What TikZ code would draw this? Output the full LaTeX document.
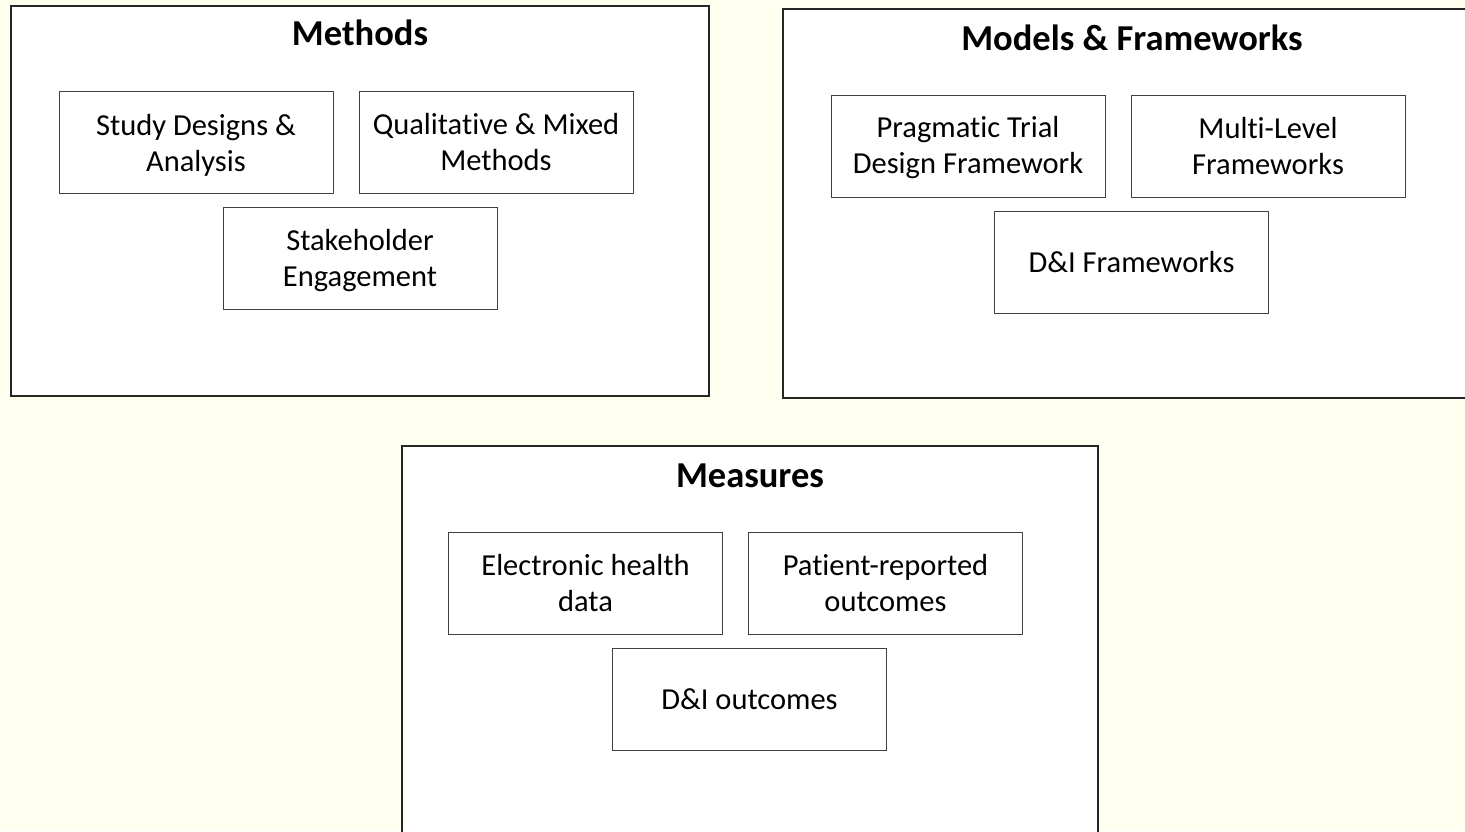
\documentclass[tikz,border=0pt]{standalone}
\usepackage{fontspec}
\setmainfont[Ligatures=NoCommon]{Carlito}
\definecolor{bgc}{HTML}{FFFFF0}
\begin{document}
\begin{tikzpicture}[x=1pt,y=-1pt,
  group/.style={draw=black!85,line width=1.2pt,fill=white},
  item/.style={draw=black!75,line width=1pt,fill=white,rectangle,minimum width=274pt,minimum height=102pt},
  itemtext/.style={align=center,font=\fontsize{30.5}{36}\selectfont,inner sep=0pt},
  title/.style={font=\fontsize{36.5}{42}\selectfont\bfseries}]
\useasboundingbox (0,0) rectangle (1465,831);
\fill[bgc] (0,0) rectangle (1465,831);
\begin{scope}
\clip (0,0) rectangle (1465,831);
\draw[group] (11,6) rectangle (709,396);
\draw[group] (783,9) rectangle (1475,398);
\draw[group] (402,446) rectangle (1098,845);
\end{scope}
\node[title] (t1) at (360,33) {Methods};
\node[title] (t2) at (1132,38) {Models \& Frameworks};
\node[title] (t3) at (750,476) {Measures};
\node[item] (a1) at (196,142) {};
\node[item] (a2) at (496,142) {};
\node[item] (a3) at (360,258) {};
\node[item] (b1) at (968,146) {};
\node[item] (b2) at (1268,146) {};
\node[item] (b3) at (1131.5,262) {};
\node[item] (c1) at (585.5,583) {};
\node[item] (c2) at (885.5,583) {};
\node[item] (c3) at (749.5,699) {};
\node[itemtext] (a1t) at ([yshift=-3pt]a1.center) {Study Designs \&\\Analysis};
\node[itemtext] (a2t) at ([yshift=-0.5pt]a2.center) {Qualitative \& Mixed\\Methods};
\node[itemtext] (a3t) at ([yshift=-3pt]a3.center) {Stakeholder\\Engagement};
\node[itemtext] (b1t) at ([yshift=-2pt]b1.center) {Pragmatic Trial\\Design Framework};
\node[itemtext] (b2t) at ([yshift=0pt]b2.center) {Multi-Level\\Frameworks};
\node[itemtext] (b3t) at ([yshift=-0.5pt]b3.center) {D\&I Frameworks};
\node[itemtext] (c1t) at ([yshift=0pt]c1.center) {Electronic health\\data};
\node[itemtext] (c2t) at ([yshift=0pt]c2.center) {Patient-reported\\outcomes};
\node[itemtext] (c3t) at ([yshift=-0.5pt]c3.center) {D\&I outcomes};
\end{tikzpicture}
\end{document}
